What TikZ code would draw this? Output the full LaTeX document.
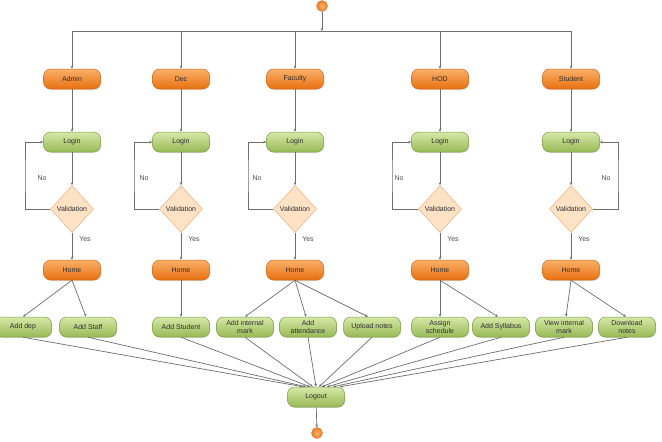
\documentclass[tikz,border=0pt]{standalone}
\usepackage{fontspec}
\setmainfont{Liberation Sans}
\usetikzlibrary{shapes.geometric,arrows.meta,shadows,calc}
\definecolor{otop}{HTML}{FAB06A}
\definecolor{obot}{HTML}{E8700F}
\definecolor{oline}{HTML}{D0691A}
\definecolor{gtop}{HTML}{D6E8A8}
\definecolor{gbot}{HTML}{98B955}
\definecolor{gline}{HTML}{7E9C45}
\definecolor{dfill}{HTML}{FDE2C6}
\definecolor{dline}{HTML}{F2B07A}
\definecolor{conn}{HTML}{6E6E6E}
\definecolor{txt}{HTML}{2E2E2E}
\tikzset{
  boxbase/.style={rectangle, rounded corners=7pt, minimum width=57pt, minimum height=20pt,
    inner sep=1pt, font=\fontsize{7}{7.6}\selectfont, text=txt, align=center,
    line width=0.5pt, drop shadow={shadow xshift=0.8pt, shadow yshift=-0.8pt, opacity=0.25}},
  obox/.style={boxbase, top color=otop, bottom color=obot, draw=oline},
  gbox/.style={boxbase, top color=gtop, bottom color=gbot, draw=gline},
  dia/.style={diamond, fill=dfill, draw=dline, line width=0.5pt, inner sep=0pt,
    minimum width=43pt, minimum height=47pt},
  vtext/.style={font=\fontsize{7}{8}\selectfont, text=txt},
  lbl/.style={font=\fontsize{7}{8}\selectfont, text=black!70},
  arr/.style={draw=conn, line width=0.7pt, -{Stealth[length=3pt,width=2.6pt]}},
  ln/.style={draw=conn, line width=0.8pt},
  dot/.style={circle, inner color=otop, outer color=obot!90, draw=oline, line width=0.3pt,
    minimum size=11pt, inner sep=0pt}
}
\begin{document}
\begin{tikzpicture}[x=1pt,y=-1pt]
\useasboundingbox (0,0) rectangle (662,442);
\fill[white] (0,0) rectangle (662,442);
% start
\node[dot] (st) at (322,6) {};
\coordinate (bar) at (322,31);
\coordinate (barL) at (72,31);
\coordinate (barR) at (571,31);
\draw[arr] (st) -- (bar);
\draw[ln] (barL) -- (barR);
% columns
\foreach \n/\x/\t in {a/72/Admin, d/181/Dec, f/295/Faculty, h/440/HOD, s/571/Student}{
  \node[obox] (\n0) at (\x,79) {\t};
  \node[gbox] (\n1) at (\x,142) {Login};
  \node[dia, label={[vtext]center:Validation}] (\n2) at (\x,209) {};
  \node[obox] (\n3) at (\x,270) {Home};
  \coordinate (\n b) at (\x,31);
  \draw[arr] (\n b) -- (\n0);
  \draw[arr] (\n0) -- (\n1);
  \draw[arr] (\n1) -- (\n2);
  \draw[arr] (\n2) -- (\n3);
  \node[lbl] (\n y) at (\x+13,239) {Yes};
}
% No loops
\foreach \n/\lx in {a/25, d/134, f/248, h/392}{
  \draw[arr] (\n2.west) -| (\lx,176) |- (\n1.west);
}
\draw[arr] (s2.east) -| (618,176) |- (s1.east);
\node[lbl] (an) at (42,178) {No};
\node[lbl] (dn) at (144,178) {No};
\node[lbl] (fn) at (257,178) {No};
\node[lbl] (hn) at (399,178) {No};
\node[lbl] (sn) at (606,178) {No};
% actions
\node[gbox] (c1) at (23,327) {Add dep};
\node[gbox] (c2) at (88,327) {Add Staff};
\node[gbox] (c3) at (181,327) {Add Student};
\node[gbox] (c4) at (245,327) {Add internal\\mark};
\node[gbox] (c5) at (308,327) {Add\\attendance};
\node[gbox] (c6) at (372,327) {Upload notes};
\node[gbox] (c7) at (440,327) {Assign\\schedule};
\node[gbox] (c8) at (501,327) {Add Syllabus};
\node[gbox] (c9) at (564,327) {View internal\\mark};
\node[gbox] (c10) at (627,327) {Download\\notes};
\draw[arr] (a3.south) -- (c1.north);
\draw[arr] (a3.south) -- ([xshift=-2pt]c2.north);
\draw[arr] (d3.south) -- (c3.north);
\draw[arr] (f3.south) -- (c4.north);
\draw[arr] (f3.south) -- ([xshift=-2pt]c5.north);
\draw[arr] (f3.south) -- ([xshift=-4pt]c6.north);
\draw[arr] (h3.south) -- (c7.north);
\draw[arr] (h3.south) -- ([xshift=-3pt]c8.north);
\draw[arr] (s3.south) -- ([xshift=2pt]c9.north);
\draw[arr] (s3.south) -- ([xshift=-1pt]c10.north);
% logout
\node[gbox] (lo) at (316,397) {Logout};
\node[dot] (en) at (317,433) {};
\draw[arr] (lo) -- (en);
\draw[arr] (c1.south) -- ([xshift=-13pt]lo.north);
\draw[arr] (c2.south) -- ([xshift=-10pt]lo.north);
\draw[arr] (c3.south) -- ([xshift=-6pt]lo.north);
\draw[arr] (c4.south) -- ([xshift=-3pt]lo.north);
\draw[arr] (c5.south) -- ([xshift=0pt]lo.north);
\draw[arr] (c6.south) -- ([xshift=3pt]lo.north);
\draw[arr] (c7.south) -- ([xshift=6pt]lo.north);
\draw[arr] (c8.south) -- ([xshift=11pt]lo.north);
\draw[arr] (c9.south) -- ([xshift=17pt]lo.north);
\draw[arr] (c10.south) -- ([xshift=24pt]lo.north);
\end{tikzpicture}
\end{document}
